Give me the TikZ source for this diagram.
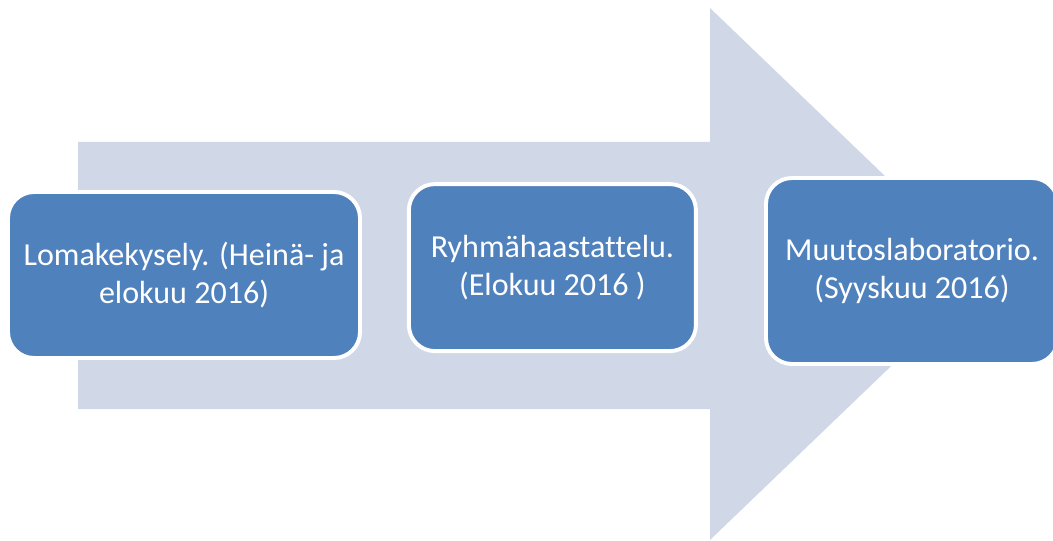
\documentclass[tikz,border=0pt]{standalone}
\usepackage{fontspec}
\setmainfont[Ligatures=NoCommon]{Carlito}
\definecolor{arrowfill}{HTML}{D0D8E8}
\definecolor{boxfill}{HTML}{4F81BD}

\begin{document}
\begin{tikzpicture}[
    stagebox/.style={draw=white, line width=2.8pt, fill=boxfill, rounded corners=0.65cm,
        text=white, align=center, font=\fontsize{22.8}{26.5}\selectfont}
  ]
    % Frame
    \useasboundingbox (0,0) rectangle (26.325,13.5);
    \clip (0,0) rectangle (26.325,13.5);

    % Big arrow in the background
    \fill[arrowfill] (1.95,3.275) -- (1.95,9.95) -- (17.75,9.95) -- (17.75,13.3)
        -- (24.675,6.65) -- (17.75,0) -- (17.75,3.275) -- cycle;

    % Stages
    \node[stagebox, minimum width=8.8cm, minimum height=4.15cm] (survey) at (4.6,6.625)
        {Lomakekysely. (Heinä- ja\\ elokuu 2016)};
    \node[stagebox, minimum width=7.175cm, minimum height=4.175cm] (interview) at (13.81,6.81)
        {Ryhmähaastattelu.\\ (Elokuu 2016 )};
    \node[stagebox, minimum width=7.3cm, minimum height=4.65cm] (lab) at (22.8,6.725)
        {Muutoslaboratorio.\\ (Syyskuu 2016)};
\end{tikzpicture}
\end{document}
